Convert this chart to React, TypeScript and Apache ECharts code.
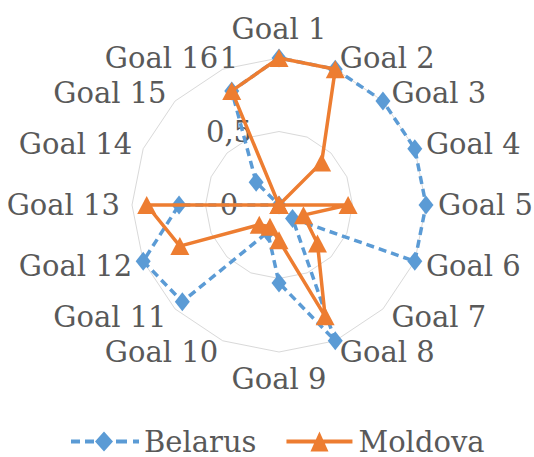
import React, { useEffect, useRef } from 'react';
import * as echarts from 'echarts';

// Sustainable Development Goals, scored 0..1 for each country
const goals = [
  'Goal 1', 'Goal 2', 'Goal 3', 'Goal 4', 'Goal 5', 'Goal 6', 'Goal 7', 'Goal 8',
  'Goal 9', 'Goal 10', 'Goal 11', 'Goal 12', 'Goal 13', 'Goal 14', 'Goal 15', 'Goal 16',
];
const belarus = [1, 1, 1, 1, 1, 1, 0.13, 1, 0.53, 0.2, 0.93, 1, 0.68, 0, 0.22, 0.84];
const moldova = [1, 1, 0.41, 0, 0.47, 0.18, 0.37, 0.82, 0.24, 0.16, 0.19, 0.73, 0.9, 0, 0, 0.84];
const seriesNames = ['Belarus', 'Moldova'];
const scaleMax = 1;
const scaleSplits = 2; // rings at 0,5 and 1

const FONT = 'DejaVu Serif';
const FONT_SIZE = 29;
const TEXT = '#595959';
const BLUE = '#5B9BD5';
const ORANGE = '#ED7D31';

// ECharts lays radar indicators out counter-clockwise; walk the goals
// as 1, 16, 15, ... 2 so they read clockwise from the top.
const order = [0, ...goals.map((_, i) => goals.length - 1 - i).slice(0, goals.length - 1)];

// Legend keys: dashed line with a diamond, solid line with a triangle
const dashedDiamondIcon =
  'path://M0 8h9v4h-9z M14 8h9v4h-9z M33 0L42 10L33 20L24 10Z M45 8h11v4h-11z M62 8h6v4h-6z';
const solidTriangleIcon = 'path://M0 8h66v4h-66z M33 0L42 20L24 20Z';

export default function App() {
  const ref = useRef<HTMLDivElement>(null);

  useEffect(() => {
    if (!ref.current) return;
    const chart = echarts.init(ref.current, undefined, { renderer: 'svg' });

    const indicator = order.map((i, k) => ({
      name: goals[i],
      min: 0,
      max: scaleMax,
      ...(k === 0 ? { axisLabel: { show: true } } : {}),
    }));

    chart.setOption({
      animation: false,
      backgroundColor: '#ffffff',
      textStyle: { fontFamily: FONT },
      legend: {
        left: 66,
        top: 422,
        itemGap: 30,
        itemWidth: 68,
        itemHeight: 20,
        itemStyle: { borderWidth: 0 },
        textStyle: { fontSize: FONT_SIZE, fontFamily: FONT, color: TEXT },
        data: [
          { name: seriesNames[0], icon: dashedDiamondIcon },
          { name: seriesNames[1], icon: solidTriangleIcon },
        ],
      },
      radar: {
        center: [279, 205],
        radius: 147,
        startAngle: 90,
        shape: 'polygon',
        splitNumber: scaleSplits,
        indicator,
        axisName: { color: TEXT, fontSize: FONT_SIZE, fontFamily: FONT },
        nameGap: 12,
        axisLine: { show: false },
        axisTick: { show: false },
        splitArea: { show: false },
        splitLine: { lineStyle: { color: '#D9D9D9', width: 1 } },
        axisLabel: {
          show: false,
          color: TEXT,
          fontSize: FONT_SIZE,
          fontFamily: FONT,
          align: 'center',
          margin: 50,
          formatter: (v: number) => String(v).replace('.', ','),
        },
      },
      series: [
        {
          type: 'radar',
          name: seriesNames[0],
          z: 2,
          symbol: 'diamond',
          symbolSize: [15, 19],
          itemStyle: { color: BLUE, borderWidth: 0 },
          lineStyle: { color: BLUE, width: 3.5, type: [8, 5] },
          data: [{ name: seriesNames[0], value: order.map((i) => belarus[i]) }],
        },
        {
          type: 'radar',
          name: seriesNames[1],
          z: 3,
          symbol: 'triangle',
          symbolSize: [19, 18],
          itemStyle: { color: ORANGE, borderWidth: 0 },
          lineStyle: { color: ORANGE, width: 3.5, type: 'solid' },
          data: [{ name: seriesNames[1], value: order.map((i) => moldova[i]) }],
        },
      ],
    });

    return () => chart.dispose();
  }, []);

  return (
    <div
      ref={ref}
      style={{ position: 'fixed', left: 0, top: 0, width: 534, height: 457, background: '#fff' }}
    />
  );
}
